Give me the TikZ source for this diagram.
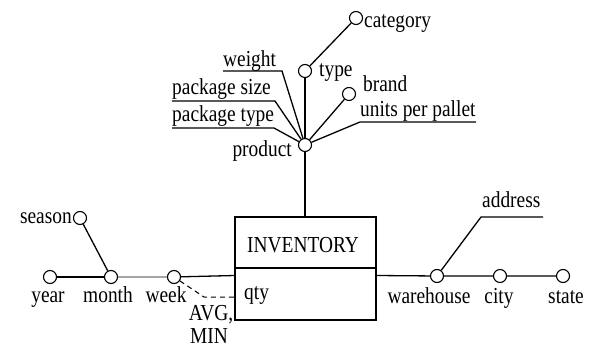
\documentclass[tikz,border=0pt]{standalone}
\usepackage{fontspec}
\setmainfont{Liberation Serif}
\newcommand{\tx}[1]{\scalebox{1}[1.18]{#1}}
\begin{document}
\begin{tikzpicture}[x=1pt,y=-1pt,
  every node/.style={font=\fontsize{19.4}{23}\selectfont, inner sep=0pt},
  circ/.style={circle, draw, line width=1.1pt, minimum size=13pt, inner sep=0pt, fill=white},
  ln/.style={line width=1.3pt},
  grayln/.style={line width=2pt, draw=black!35},
  lbl/.style={anchor=base}]
\useasboundingbox (0,0) rectangle (594,347);
% fact box
\node[draw, ln, minimum width=141pt, minimum height=103pt, inner sep=0pt] (inv) at (305.5,268.5) {};
\coordinate (dl) at (235,268);
\coordinate (dr) at (376,268);
\draw[ln] (dl) -- (dr);
\node[anchor=base west] (invt) at (247,252.5) {\tx{INVENTORY}};
\node[anchor=base west] (qty) at (244,299) {\tx{qty}};
% product hierarchy
\node[circ] (product) at (305,145) {};
\node[circ] (type) at (305,71) {};
\node[circ] (category) at (356,18) {};
\node[circ] (brand) at (349,94) {};
\draw[ln] (product) -- (product |- inv.north);
\draw[ln] (product) -- (type);
\draw[ln] (type) -- (category);
\draw[ln] (product) -- (brand);
\coordinate (upp1) at (360,122); \coordinate (upp2) at (476,122);
\draw[ln] (product) -- (upp1) -- (upp2);
\coordinate (wt1) at (282,71); \coordinate (wt2) at (223,71);
\draw[ln] (product) -- (wt1) -- (wt2);
\coordinate (ps1) at (275,101); \coordinate (ps2) at (172,101);
\draw[ln] (product) -- (ps1) -- (ps2);
\coordinate (pt1) at (274,128); \coordinate (pt2) at (172,128);
\draw[ln] (product) -- (pt1) -- (pt2);
\node[anchor=base east] (productl) at (292,157) {\tx{product}};
\node[anchor=base west] (typel) at (319,77) {\tx{type}};
\node[anchor=base west] (categoryl) at (364,28) {\tx{category}};
\node[anchor=base west] (brandl) at (363,92) {\tx{brand}};
\node[anchor=base west] (uppl) at (360,117) {\tx{units per pallet}};
\node[anchor=base west] (wtl) at (223,67) {\tx{weight}};
\node[anchor=base west] (psl) at (172,95) {\tx{package size}};
\node[anchor=base west] (ptl) at (172,122) {\tx{package type}};
% time hierarchy
\node[circ] (season) at (80,218) {};
\node[circ] (year) at (50,277) {};
\node[circ] (month) at (111,277) {};
\node[circ] (week) at (174,277) {};
\draw[ln] (season) -- (month);
\draw[ln] (year) -- (month);
\draw[grayln] (month) -- (week);
\coordinate (wk1) at (235,275.5);
\draw[ln] (week) -- (wk1);
\coordinate (av1) at (204,297); \coordinate (av2) at (235,297);
\draw[line width=1pt, dash pattern=on 5pt off 4pt] (week) -- (av1) -- (av2);
\node[anchor=base east] (seasonl) at (72,224) {\tx{season}};
\node[lbl] (yearl) at (48,302) {\tx{year}};
\node[lbl] (monthl) at (108,302) {\tx{month}};
\node[lbl] (weekl) at (166,302) {\tx{week}};
\node[lbl] (avg) at (211,320) {\tx{AVG,}};
\node[lbl] (min) at (209,343) {\tx{MIN}};
% location hierarchy
\node[circ] (warehouse) at (437,276) {};
\node[circ] (city) at (500,276) {};
\node[circ] (state) at (563,276) {};
\coordinate (wh0) at (376,275.5);
\draw[ln] (wh0) -- (warehouse) -- (city) -- (state);
\coordinate (ad1) at (481,217); \coordinate (ad2) at (543,217);
\draw[ln] (warehouse) -- (ad1) -- (ad2);
\node[anchor=base west] (addressl) at (482,208) {\tx{address}};
\node[lbl] (whl) at (429,303) {\tx{warehouse}};
\node[lbl] (cityl) at (499,303) {\tx{city}};
\node[lbl] (statel) at (566,303) {\tx{state}};
\end{tikzpicture}
\end{document}
